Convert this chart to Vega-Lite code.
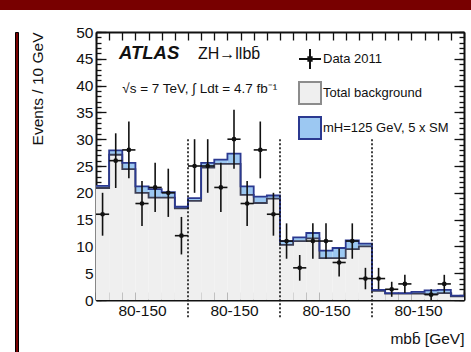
{
  "$schema": "https://vega.github.io/schema/vega-lite/v6.json",
  "background": "white",
  "padding": 0,
  "config": {
    "font": "Liberation Sans",
    "view": {"stroke": null},
    "axis": {"grid": false, "zindex": 1, "labelFont": "Liberation Sans", "titleFont": "Liberation Sans", "tickColor": "#111", "labelColor": "#111", "titleColor": "#111", "domainColor": "#111", "tickWidth": 1.3, "titleFontWeight": "normal", "labelFlush": false, "labelOverlap": false}
  },
  "datasets": {
    "hist": [
      {"x0": 0, "x1": 1, "xc": 0.5, "bkg": 20.9, "top": 21.3, "n": 16, "lo": 12.0, "hi": 20.0},
      {"x0": 1, "x1": 2, "xc": 1.5, "bkg": 27.1, "top": 27.9, "n": 26, "lo": 20.9, "hi": 31.1},
      {"x0": 2, "x1": 3, "xc": 2.5, "bkg": 24.4, "top": 25.6, "n": 28, "lo": 22.7, "hi": 33.3},
      {"x0": 3, "x1": 4, "xc": 3.5, "bkg": 20.0, "top": 21.2, "n": 18, "lo": 13.8, "hi": 22.2},
      {"x0": 4, "x1": 5, "xc": 4.5, "bkg": 19.1, "top": 20.7, "n": 21, "lo": 16.4, "hi": 25.6},
      {"x0": 5, "x1": 6, "xc": 5.5, "bkg": 19.1, "top": 20.1, "n": 20, "lo": 15.5, "hi": 24.5},
      {"x0": 6, "x1": 7, "xc": 6.5, "bkg": 17.1, "top": 17.4, "n": 12, "lo": 8.5, "hi": 15.5},
      {"x0": 7, "x1": 8, "xc": 7.5, "bkg": 18.5, "top": 19.0, "n": 25, "lo": 20.0, "hi": 30.0},
      {"x0": 8, "x1": 9, "xc": 8.5, "bkg": 24.7, "top": 25.6, "n": 25, "lo": 20.0, "hi": 30.0},
      {"x0": 9, "x1": 10, "xc": 9.5, "bkg": 25.4, "top": 26.2, "n": 21, "lo": 16.4, "hi": 25.6},
      {"x0": 10, "x1": 11, "xc": 10.5, "bkg": 25.4, "top": 27.3, "n": 30, "lo": 24.5, "hi": 35.5},
      {"x0": 11, "x1": 12, "xc": 11.5, "bkg": 19.6, "top": 21.2, "n": 18, "lo": 13.8, "hi": 22.2},
      {"x0": 12, "x1": 13, "xc": 12.5, "bkg": 18.1, "top": 19.3, "n": 28, "lo": 22.7, "hi": 33.3},
      {"x0": 13, "x1": 14, "xc": 13.5, "bkg": 18.9, "top": 19.5, "n": 16, "lo": 12.0, "hi": 20.0},
      {"x0": 14, "x1": 15, "xc": 14.5, "bkg": 10.3, "top": 11.0, "n": 11, "lo": 7.7, "hi": 14.3},
      {"x0": 15, "x1": 16, "xc": 15.5, "bkg": 11.0, "top": 11.7, "n": 6, "lo": 3.6, "hi": 8.4},
      {"x0": 16, "x1": 17, "xc": 16.5, "bkg": 11.5, "top": 12.5, "n": 11, "lo": 7.7, "hi": 14.3},
      {"x0": 17, "x1": 18, "xc": 17.5, "bkg": 7.8, "top": 9.2, "n": 11, "lo": 7.7, "hi": 14.3},
      {"x0": 18, "x1": 19, "xc": 18.5, "bkg": 7.8, "top": 9.7, "n": 7, "lo": 4.4, "hi": 9.6},
      {"x0": 19, "x1": 20, "xc": 19.5, "bkg": 9.5, "top": 11.1, "n": 11, "lo": 7.7, "hi": 14.3},
      {"x0": 20, "x1": 21, "xc": 20.5, "bkg": 10.0, "top": 10.5, "n": 4, "lo": 2.0, "hi": 6.0},
      {"x0": 21, "x1": 22, "xc": 21.5, "bkg": 1.7, "top": 1.9, "n": 4, "lo": 2.0, "hi": 6.0},
      {"x0": 22, "x1": 23, "xc": 22.5, "bkg": 1.2, "top": 1.3, "n": 2, "lo": 0.6, "hi": 3.4},
      {"x0": 23, "x1": 24, "xc": 23.5, "bkg": 1.2, "top": 1.3, "n": 3, "lo": 1.3, "hi": 4.7},
      {"x0": 24, "x1": 25, "xc": 24.5, "bkg": 1.2, "top": 1.5, "n": 0, "lo": null, "hi": null},
      {"x0": 25, "x1": 26, "xc": 25.5, "bkg": 1.1, "top": 1.8, "n": 1, "lo": 0.0, "hi": 2.0},
      {"x0": 26, "x1": 27, "xc": 26.5, "bkg": 1.3, "top": 1.9, "n": 3, "lo": 1.3, "hi": 4.7},
      {"x0": 27, "x1": 28, "xc": 27.5, "bkg": 0.7, "top": 0.8, "n": 0, "lo": null, "hi": null}
    ]
  },
  "spacing": 15,
  "vconcat": [
    {"width": 471, "height": 10, "data": {"values": []}, "mark": "point", "view": {"fill": "#780000", "stroke": null}},
    {
      "spacing": 11,
      "hconcat": [
        {
          "spacing": 0,
          "hconcat": [
            {"width": 14, "height": 330, "data": {"values": []}, "mark": "point", "view": {"fill": "white", "stroke": null}},
            {"width": 3, "height": 330, "data": {"values": []}, "mark": "point", "view": {"fill": "#780000", "stroke": "black", "strokeWidth": 1}}
          ]
        },
        {
          "width": 368,
          "height": 268,
          "view": {"stroke": null, "fill": "white"},
          "data": {"name": "hist"},
          "layer": [
            {
              "mark": {"type": "rect", "fill": "#efefef"},
              "encoding": {
                "x": {"field": "x0", "type": "quantitative", "scale": {"domain": [0, 28], "nice": false, "zero": false},
                  "axis": {"orient": "bottom", "values": [0,1,2,3,4,5,6,7,8,9,10,11,12,13,14,15,16,17,18,19,20,21,22,23,24,25,26,27,28], "labels": false, "tickSize": -8, "domain": true, "domainWidth": 2, "title": null}},
                "x2": {"field": "x1"},
                "y": {"field": "bkg", "type": "quantitative", "scale": {"domain": [0, 50], "nice": false, "zero": false},
                  "axis": {"orient": "left", "values": [0,5,10,15,20,25,30,35,40,45,50], "tickSize": -10, "labelPadding": 13, "labelFontSize": 15.5, "domain": true, "domainWidth": 2, "title": "Events / 10 GeV", "titleAnchor": "end", "titleFontSize": 15.5, "titlePadding": 30}},
                "y2": {"datum": 0}
              }
            },
            {
              "mark": {"type": "rect", "fill": "#9cc8f2"},
              "encoding": {
                "x": {"field": "x0", "type": "quantitative", "scale": {"domain": [0, 28], "nice": false, "zero": false},
                  "axis": {"orient": "bottom", "values": [3.5, 10.5, 17.5, 24.5], "labelExpr": "'80-150'", "ticks": false, "domain": false, "labelPadding": 3, "labelFontSize": 15.5, "title": "mbb̄ [GeV]", "titleAnchor": "end", "titleFontSize": 15.5, "titlePadding": 13}},
                "x2": {"field": "x1"},
                "y": {"field": "top", "type": "quantitative", "scale": {"domain": [0, 50], "nice": false, "zero": false},
                  "axis": {"orient": "left", "values": [0,1,2,3,4,5,6,7,8,9,10,11,12,13,14,15,16,17,18,19,20,21,22,23,24,25,26,27,28,29,30,31,32,33,34,35,36,37,38,39,40,41,42,43,44,45,46,47,48,49,50], "labels": false, "tickSize": -5, "domain": false, "title": null}},
                "y2": {"field": "bkg"}
              }
            },
            {
              "transform": [{"fold": ["x0", "x1"], "as": ["edge", "xe"]}],
              "mark": {"type": "line", "stroke": "#3c3f55", "strokeWidth": 1.8},
              "encoding": {
                "x": {"field": "xe", "type": "quantitative", "scale": {"domain": [0, 28], "nice": false, "zero": false},
                  "axis": {"orient": "top", "values": [0,1,2,3,4,5,6,7,8,9,10,11,12,13,14,15,16,17,18,19,20,21,22,23,24,25,26,27,28], "labels": false, "tickSize": -8, "domain": true, "domainWidth": 2, "title": null}},
                "y": {"field": "bkg", "type": "quantitative", "scale": {"domain": [0, 50], "nice": false, "zero": false},
                  "axis": {"orient": "right", "values": [0,5,10,15,20,25,30,35,40,45,50], "labels": false, "tickSize": -10, "domain": true, "domainWidth": 2, "title": null}},
                "order": [{"field": "x0", "type": "quantitative"}, {"field": "edge", "type": "ordinal"}]
              }
            },
            {
              "transform": [{"fold": ["x0", "x1"], "as": ["edge", "xe"]}],
              "mark": {"type": "line", "stroke": "#2b3990", "strokeWidth": 1.8},
              "encoding": {
                "x": {"field": "xe", "type": "quantitative", "scale": {"domain": [0, 28], "nice": false, "zero": false}, "axis": null},
                "y": {"field": "top", "type": "quantitative", "scale": {"domain": [0, 50], "nice": false, "zero": false},
                  "axis": {"orient": "right", "values": [0,1,2,3,4,5,6,7,8,9,10,11,12,13,14,15,16,17,18,19,20,21,22,23,24,25,26,27,28,29,30,31,32,33,34,35,36,37,38,39,40,41,42,43,44,45,46,47,48,49,50], "labels": false, "tickSize": -5, "domain": false, "title": null}},
                "order": [{"field": "x0", "type": "quantitative"}, {"field": "edge", "type": "ordinal"}]
              }
            },
            {
              "data": {"values": [{"b": 7}, {"b": 14}, {"b": 21}]},
              "mark": {"type": "rule", "color": "#111", "strokeWidth": 1.6, "strokeDash": [2, 2], "clip": false},
              "encoding": {
                "x": {"field": "b", "type": "quantitative", "scale": {"domain": [0, 28], "nice": false, "zero": false}, "axis": null},
                "y": {"datum": 30, "type": "quantitative", "scale": {"domain": [0, 50], "nice": false, "zero": false}, "axis": null},
                "y2": {"datum": -3.2}
              }
            },
            {
              "transform": [{"filter": "datum.n > 0"}],
              "mark": {"type": "rule", "color": "#111", "strokeWidth": 1.6},
              "encoding": {
                "x": {"field": "xc", "type": "quantitative", "scale": {"domain": [0, 28], "nice": false, "zero": false}, "axis": null},
                "y": {"field": "lo", "type": "quantitative", "scale": {"domain": [0, 50], "nice": false, "zero": false}, "axis": null},
                "y2": {"field": "hi"}
              }
            },
            {
              "transform": [{"filter": "datum.n > 0"}],
              "mark": {"type": "rule", "color": "#111", "strokeWidth": 1.6},
              "encoding": {
                "x": {"field": "x0", "type": "quantitative", "scale": {"domain": [0, 28], "nice": false, "zero": false}, "axis": null},
                "x2": {"field": "x1"},
                "y": {"field": "n", "type": "quantitative", "scale": {"domain": [0, 50], "nice": false, "zero": false}, "axis": null}
              }
            },
            {
              "transform": [{"filter": "datum.n > 0"}],
              "mark": {"type": "point", "filled": true, "color": "#111", "size": 22, "opacity": 1},
              "encoding": {
                "x": {"field": "xc", "type": "quantitative", "scale": {"domain": [0, 28], "nice": false, "zero": false}, "axis": null},
                "y": {"field": "n", "type": "quantitative", "scale": {"domain": [0, 50], "nice": false, "zero": false}, "axis": null}
              }
            },
            {
              "data": {"values": [{"t": "ATLAS"}]},
              "mark": {"type": "text", "align": "left", "baseline": "middle", "font": "Liberation Sans", "fontSize": 18.5, "fontWeight": "bold", "fontStyle": "italic", "color": "#111"},
              "encoding": {
                "x": {"datum": 1.75, "type": "quantitative", "scale": {"domain": [0, 28], "nice": false, "zero": false}, "axis": null},
                "y": {"datum": 46.0, "type": "quantitative", "scale": {"domain": [0, 50], "nice": false, "zero": false}, "axis": null},
                "text": {"field": "t"}
              }
            },
            {
              "data": {"values": [{"t": "ZH→llbb̄"}]},
              "mark": {"type": "text", "align": "left", "baseline": "middle", "font": "Liberation Sans", "fontSize": 16, "color": "#111"},
              "encoding": {
                "x": {"datum": 7.76, "type": "quantitative", "scale": {"domain": [0, 28], "nice": false, "zero": false}, "axis": null},
                "y": {"datum": 45.9, "type": "quantitative", "scale": {"domain": [0, 50], "nice": false, "zero": false}, "axis": null},
                "text": {"field": "t"}
              }
            },
            {
              "data": {"values": [{"t": "√s = 7 TeV, ∫ Ldt = 4.7 fb⁻¹"}]},
              "mark": {"type": "text", "align": "left", "baseline": "middle", "font": "Liberation Sans", "fontSize": 13.5, "color": "#111"},
              "encoding": {
                "x": {"datum": 2.0, "type": "quantitative", "scale": {"domain": [0, 28], "nice": false, "zero": false}, "axis": null},
                "y": {"datum": 39.4, "type": "quantitative", "scale": {"domain": [0, 50], "nice": false, "zero": false}, "axis": null},
                "text": {"field": "t"}
              }
            },
            {
              "data": {"values": []},
              "mark": {"type": "point", "filled": true, "opacity": 1},
              "encoding": {
                "fill": {"field": "entry", "type": "nominal",
                  "scale": {"domain": ["Data 2011", "Total background", "mH=125 GeV, 5 x SM"], "range": ["#111111", "#efefef", "#9cc8f2"]},
                  "legend": {"orient": "none", "legendX": 298, "legendY": 47, "title": null, "padding": 0, "symbolSize": 484, "symbolStrokeWidth": 2, "labelFont": "Liberation Sans", "labelFontSize": 13, "labelColor": "#111", "labelOffset": 1, "rowPadding": 5, "labelLimit": 300}},
                "stroke": {"field": "entry", "type": "nominal",
                  "scale": {"domain": ["Data 2011", "Total background", "mH=125 GeV, 5 x SM"], "range": ["#111111", "#8c8c8c", "#2b3990"]},
                  "legend": {"orient": "none", "legendX": 298, "legendY": 47, "title": null, "padding": 0, "symbolSize": 484, "symbolStrokeWidth": 2, "labelFont": "Liberation Sans", "labelFontSize": 13, "labelColor": "#111", "labelOffset": 1, "rowPadding": 5, "labelLimit": 300}},
                "shape": {"field": "entry", "type": "nominal",
                  "scale": {"domain": ["Data 2011", "Total background", "mH=125 GeV, 5 x SM"], "range": ["M-1,0H1M0,-0.9V0.9M-0.15,-0.15H0.15V0.15H-0.15Z", "square", "square"]},
                  "legend": {"orient": "none", "legendX": 298, "legendY": 47, "title": null, "padding": 0, "symbolSize": 484, "symbolStrokeWidth": 2, "labelFont": "Liberation Sans", "labelFontSize": 13, "labelColor": "#111", "labelOffset": 1, "rowPadding": 5, "labelLimit": 300}}
              }
            }
          ],
          "resolve": {"axis": {"x": "independent", "y": "independent"}}
        }
      ]
    }
  ]
}
